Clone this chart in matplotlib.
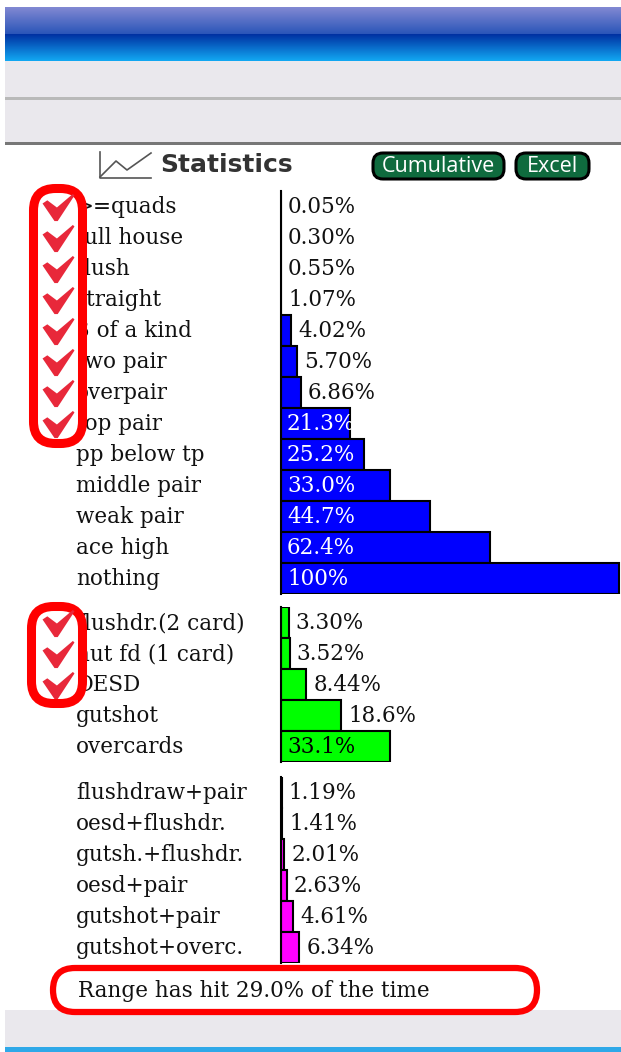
import numpy as np
import matplotlib
matplotlib.use('Agg')
import matplotlib.pyplot as plt
from matplotlib.patches import FancyBboxPatch, Rectangle
from matplotlib.path import Path

# data
hands = ['>=quads', 'full house', 'flush', 'straight', '3 of a kind', 'two pair', 'overpair',
         'top pair', 'pp below tp', 'middle pair', 'weak pair', 'ace high', 'nothing']
hands_pct = [0.05, 0.30, 0.55, 1.07, 4.02, 5.70, 6.86, 21.3, 25.2, 33.0, 44.7, 62.4, 100]
hands_txt = ['0.05%', '0.30%', '0.55%', '1.07%', '4.02%', '5.70%', '6.86%',
             '21.3%', '25.2%', '33.0%', '44.7%', '62.4%', '100%']

draws = ['flushdr.(2 card)', 'nut fd (1 card)', 'OESD', 'gutshot', 'overcards']
draws_pct = [3.30, 3.52, 8.44, 18.6, 33.1]
draws_txt = ['3.30%', '3.52%', '8.44%', '18.6%', '33.1%']

combos = ['flushdraw+pair', 'oesd+flushdr.', 'gutsh.+flushdr.', 'oesd+pair', 'gutshot+pair', 'gutshot+overc.']
combos_pct = [1.19, 1.41, 2.01, 2.63, 4.61, 6.34]
combos_txt = ['1.19%', '1.41%', '2.01%', '2.63%', '4.61%', '6.34%']

W, H = 621, 1052
SERIF = 'DejaVu Serif'
FS = 15.5
PX_PER_PCT = 3.41
X0 = 281

fig = plt.figure(figsize=(W / 100, H / 100), dpi=100, facecolor='white')

# window chrome, in pixels
bg = fig.add_axes([0, 0, 1, 1], zorder=0)
bg.axis('off')


def gradient(y0, y1, c0, c1):
    a = np.array(matplotlib.colors.to_rgb(c0))
    b = np.array(matplotlib.colors.to_rgb(c1))
    t = np.linspace(0, 1, 64)[:, None, None]
    img = a[None, None, :] * (1 - t) + b[None, None, :] * t
    bg.imshow(img, extent=[5, W, y1, y0], aspect='auto', zorder=1)


gradient(7, 34, '#8289d3', '#2a55b8')
gradient(34, 61, '#0030a2', '#12a8f2')
bg.set_xlim(0, W)
bg.set_ylim(H, 0)
bg.add_patch(Rectangle((5, 61), W, 36, fc='#eae8ed', ec='none'))
bg.add_patch(Rectangle((5, 97), W, 3, fc='#b9b9b9', ec='none'))
bg.add_patch(Rectangle((5, 100), W, 42, fc='#eae8ed', ec='none'))
bg.add_patch(Rectangle((5, 142), W, 3, fc='#777777', ec='none'))
bg.add_patch(Rectangle((5, 1010), W, 37, fc='#eae8ed', ec='none'))
bg.add_patch(Rectangle((5, 1047), W, 5, fc='#2fa8e8', ec='none'))

# header icon + title
bg.plot([100, 100, 151], [152, 178, 178], color='#555555', lw=1.2)
bg.plot([100, 116, 127, 151], [177, 161, 170, 153], color='#555555', lw=1.2)
bg.text(160, 165.5, 'Statistics', fontsize=18, fontweight='bold', family='DejaVu Sans',
        color='#333333', va='center', ha='left')


def button(x0, x1, label):
    bg.add_patch(FancyBboxPatch((x0 + 10, 163), x1 - x0 - 20, 6,
                                boxstyle='round,pad=10,rounding_size=10',
                                fc='#0f6b3e', ec='black', lw=2.2))
    bg.text((x0 + x1) / 2, 166, label, color='white', fontsize=15.5, family='Open Sans',
            ha='center', va='center')


button(373, 504, 'Cumulative')
button(516, 589, 'Excel')


def bar_group(top, labels, values, texts, color, text_color=None, inside_from=None, row=31.0):
    n = len(labels)
    h = n * row
    ax = fig.add_axes([X0 / W, 1 - (top + h) / H, (W - X0) / W, h / H], zorder=2)
    ax.patch.set_alpha(0)
    ax.set_xlim(0, (W - X0) / PX_PER_PCT)
    ax.set_ylim(n - 0.5, -0.5)
    for s in ['top', 'right', 'bottom']:
        ax.spines[s].set_visible(False)
    ax.spines['left'].set_linewidth(1.5)
    ax.set_xticks([])
    ax.set_yticks([])
    y = np.arange(n)
    # the program draws its bars one percent short of the value
    widths = np.maximum(np.array(values) - 1.0, 0)
    ax.barh(y, widths, height=1.0, color=color, edgecolor='black', linewidth=1.5)
    for i in range(n):
        ax.text((76 - X0) / PX_PER_PCT, i + 0.21, labels[i], family=SERIF, fontsize=FS,
                va='baseline', ha='left', color='#111111')
        if inside_from is not None and values[i] >= inside_from:
            ax.text(1.76, i + 0.21, texts[i], family=SERIF, fontsize=FS, va='baseline', ha='left',
                    color=text_color)
        else:
            ax.text(widths[i] + 2.05, i + 0.21, texts[i], family=SERIF, fontsize=FS, va='baseline',
                    ha='left', color='#111111')
    return ax


bar_group(191, hands, hands_pct, hands_txt, '#0000ff', 'white', 20)
bar_group(607, draws, draws_pct, draws_txt, '#00ff00', 'black', 30)
bar_group(777, combos, combos_pct, combos_txt, '#ff00ff')

# red annotations over the top
top = fig.add_axes([0, 0, 1, 1], zorder=5)
top.patch.set_alpha(0)
top.set_xlim(0, W)
top.set_ylim(H, 0)
top.axis('off')

# white inside the check boxes hides the first letter of the labels
top.add_patch(FancyBboxPatch((55.5, 210.5), 5, 211, boxstyle='round,pad=22,rounding_size=22',
                             fc='white', ec='#ff0000', lw=6.5))
top.add_patch(FancyBboxPatch((53.5, 628.5), 7, 53, boxstyle='round,pad=22,rounding_size=22',
                             fc='white', ec='#ff0000', lw=6.5))
top.add_patch(FancyBboxPatch((75, 990), 440, 0, boxstyle='round,pad=22,rounding_size=22',
                             fc='none', ec='#ff0000', lw=4.5))
top.text(78, 997, 'Range has hit 29.0% of the time', family=SERIF, fontsize=FS, va='baseline',
         ha='left', color='#111111')

check = Path([(-1.0, 0.25), (-0.7, 0.45), (-0.1, 0.0), (0.9, 0.85), (1.0, 0.75),
              (-0.05, -0.85), (-0.25, -0.85), (-1.0, 0.25)], closed=True)
check_y = np.concatenate([207 + 31 * np.arange(8), 623 + 31 * np.arange(3)])
top.plot(np.full(len(check_y), 58), check_y, ls='none', marker=check, ms=23, mfc='#e8283a', mec='none')

fig.savefig('out.png', dpi=100)
